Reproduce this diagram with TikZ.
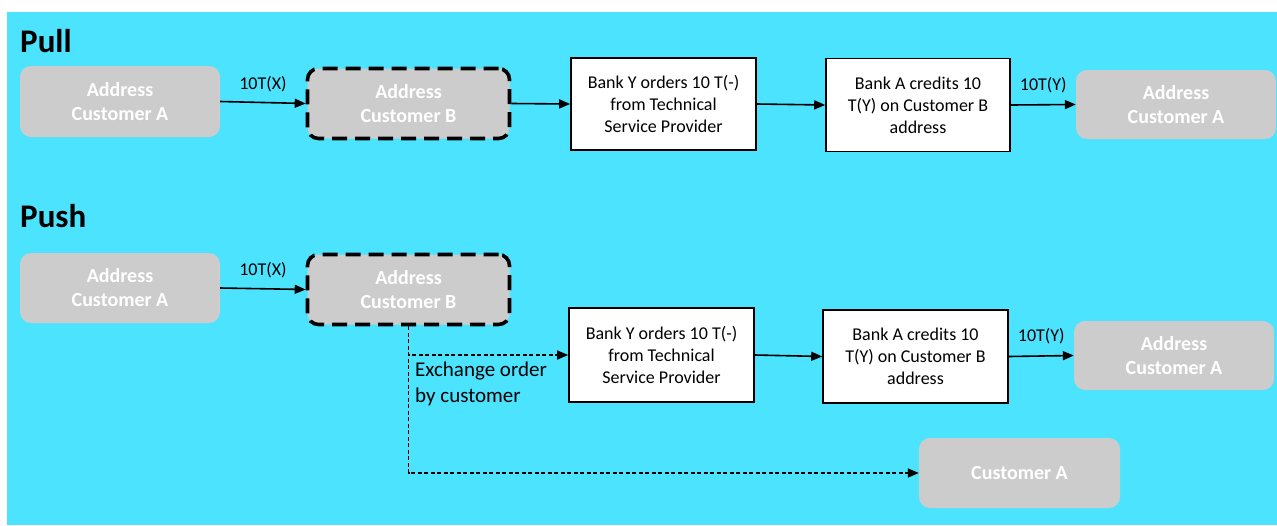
\documentclass[tikz,border=0pt]{standalone}
\usepackage{fontspec}
\setmainfont{Carlito}
\usetikzlibrary{arrows.meta}
\definecolor{skyfill}{HTML}{4CE3FF}
\definecolor{addrgray}{HTML}{CCCCCC}
\begin{document}
\begin{tikzpicture}[x=1pt,y=-1pt,
  addr/.style={draw=none,fill=addrgray,rounded corners=11pt,text=white,
    font=\fontsize{20}{24}\selectfont\bfseries,align=center,inner sep=0pt},
  addrdash/.style={addr,draw=black,line width=3.6pt,dash pattern=on 15pt off 8pt},
  stepbox/.style={draw=black,line width=1.6pt,fill=white,align=center,inner sep=0pt,
    font=\fontsize{18}{22}\selectfont},
  flow/.style={line width=1.6pt,-{Triangle[length=11pt,width=9pt]}},
  order/.style={line width=1.4pt,dash pattern=on 4pt off 2.5pt,-{Triangle[length=11pt,width=9pt]}},
  lbl/.style={font=\fontsize{18}{20}\selectfont,inner sep=0pt},
  title/.style={font=\fontsize{33}{38}\selectfont\bfseries,inner sep=0pt,anchor=base west}]
\useasboundingbox (0,0) rectangle (1277,525);
\fill[white] (0,0) rectangle (1277,525);
\fill[skyfill] (7,12) rectangle (1277,525);

% Pull
\node[title] (pulltitle) at (20,52) {Pull};
\node[addr,minimum width=200pt,minimum height=71pt] (pa) at (120,101.5) {Address\\Customer A};
\node[addrdash,minimum width=202pt,minimum height=70pt] (pb) at (408.5,103.5) {Address\\Customer B};
\node[stepbox,minimum width=185pt,minimum height=92pt] (py) at (663.5,104) {Bank Y orders 10 T(-)\\from Technical\\Service Provider};
\node[stepbox,minimum width=184pt,minimum height=93pt] (pab) at (918,105) {Bank A credits 10\\T(Y) on Customer B\\address};
\node[addr,minimum width=200pt,minimum height=69pt] (pc) at (1176,104.5) {Address\\Customer A};

\draw[flow] (pa.east) -- node[lbl,above=10pt] (plx) {10T(X)} (pb.west);
\draw[flow] (pb.east) -- (py.west);
\draw[flow] (py.east) -- (pab.west);
\draw[flow] (pab.east) -- node[lbl,above=11pt] (ply) {10T(Y)} (pc.west);

% Push
\node[title] (pushtitle) at (20,227) {Push};
\node[addr,minimum width=200pt,minimum height=70pt] (sa) at (120,288) {Address\\Customer A};
\node[addrdash,minimum width=202pt,minimum height=70pt] (sb) at (408.5,289.5) {Address\\Customer B};
\node[stepbox,minimum width=185pt,minimum height=94pt] (sy) at (661.5,355) {Bank Y orders 10 T(-)\\from Technical\\Service Provider};
\node[stepbox,minimum width=185pt,minimum height=93pt] (sab) at (915.5,356.5) {Bank A credits 10\\T(Y) on Customer B\\address};
\node[addr,minimum width=200pt,minimum height=69pt] (sc) at (1174,355.5) {Address\\Customer A};
\node[addr,minimum width=201pt,minimum height=70pt] (sca) at (1019.5,473) {Customer A};

\draw[flow] (sa.east) -- node[lbl,above=10pt] (slx) {10T(X)} (sb.west);
\draw[flow] (sy.east) -- (sab.west);
\draw[flow] (sab.east) -- node[lbl,above=11pt] (sly) {10T(Y)} (sc.west);

\draw[order] (sb.south) |- (sy.west);
\draw[order] (sb.south) |- (sca.west);
\node[font=\fontsize{21}{26}\selectfont,align=left,anchor=north west,inner sep=0pt] (exch) at (415,362) {Exchange order\\by customer};
\end{tikzpicture}
\end{document}
